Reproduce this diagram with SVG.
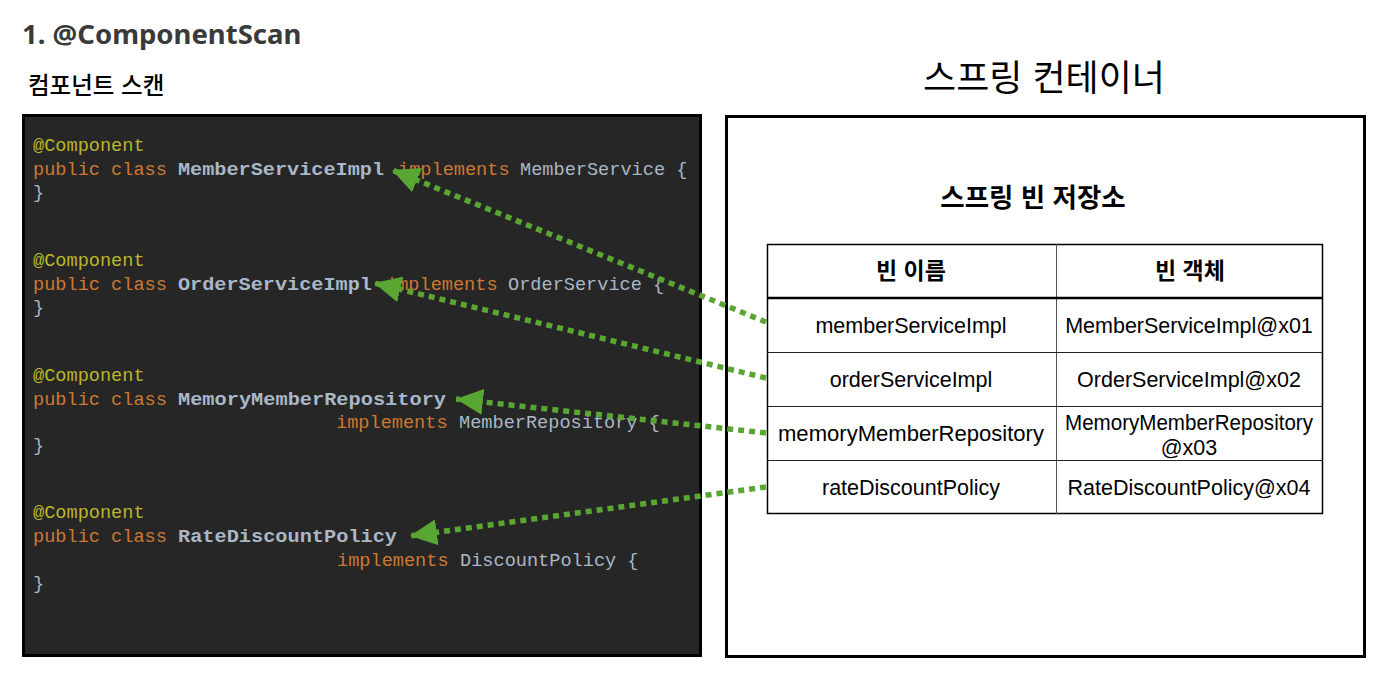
<svg xmlns="http://www.w3.org/2000/svg" width="1392" height="674" viewBox="0 0 1392 674">
<style>
.title{font-family:"Noto Sans","Open Sans",sans-serif;font-weight:bold;font-size:27.5px;fill:#3a3a3a}
.kr{font-family:"Liberation Sans","Noto Sans CJK KR",sans-serif;fill:#000}
.code{font-family:"Liberation Mono",monospace;font-size:18.6px}
.ann{fill:#bbb529}
.kw{fill:#cc7832}
.id{fill:#a9b7c6}
.cls{fill:#a9b7c6;font-weight:bold}
.cell{font-family:"Liberation Sans",sans-serif;font-size:21.5px;fill:#000;text-anchor:middle}
.hdr{font-family:"Liberation Sans","Noto Sans CJK KR",sans-serif;font-size:23px;font-weight:bold;fill:#000;text-anchor:middle}
.store{font-size:26.5px}
.conn{stroke:#5aa632;stroke-width:5.5;stroke-dasharray:6 5;fill:none}
</style>
<defs>
<marker id="ah" markerUnits="userSpaceOnUse" markerWidth="30" markerHeight="26" refX="27" refY="13" orient="auto">
<path d="M0,0 L27,13 L0,26 Z" fill="#5aa632"/>
</marker>
</defs>
<text class="title" x="22" y="44">1. @ComponentScan</text>
<text class="kr" x="28" y="94" font-size="23.5" font-weight="500">컴포넌트 스캔</text>
<text class="kr" x="1044" y="91" font-size="36" text-anchor="middle">스프링 컨테이너</text>

<g id="code-panel">
<rect x="23.5" y="115.5" width="677" height="540" fill="#262626" stroke="#000" stroke-width="3"/>
<g class="code">
<text x="33" y="151" class="ann">@Component</text>
<text x="33" y="175" class="kw">public class</text>
<text x="178" y="175" class="cls" textLength="206" lengthAdjust="spacingAndGlyphs">MemberServiceImpl</text>
<text x="398" y="175" class="kw">implements</text>
<text x="520" y="175" class="id">MemberService {</text>
<text x="33" y="198" class="id">}</text>

<text x="33" y="266" class="ann">@Component</text>
<text x="33" y="290" class="kw">public class</text>
<text x="178" y="290" class="cls" textLength="194" lengthAdjust="spacingAndGlyphs">OrderServiceImpl</text>
<text x="386" y="290" class="kw">implements</text>
<text x="508" y="290" class="id">OrderService {</text>
<text x="33" y="313" class="id">}</text>

<text x="33" y="381" class="ann">@Component</text>
<text x="33" y="405" class="kw">public class</text>
<text x="178" y="405" class="cls" textLength="268" lengthAdjust="spacingAndGlyphs">MemoryMemberRepository</text>
<text x="336" y="428" class="kw">implements</text>
<text x="459" y="428" class="id">MemberRepository {</text>
<text x="33" y="451" class="id">}</text>

<text x="33" y="518" class="ann">@Component</text>
<text x="33" y="542" class="kw">public class</text>
<text x="178" y="542" class="cls" textLength="219" lengthAdjust="spacingAndGlyphs">RateDiscountPolicy</text>
<text x="337" y="566" class="kw">implements</text>
<text x="460" y="566" class="id">DiscountPolicy {</text>
<text x="33" y="589" class="id">}</text>
</g>
</g>

<g id="container">
<rect x="726.5" y="116.5" width="638" height="540" fill="#fff" stroke="#000" stroke-width="3"/>
<text class="hdr store" x="1033" y="207">스프링 빈 저장소</text>
</g>

<g id="bean-table">
<rect x="767.5" y="244.5" width="555" height="269" fill="#fff" stroke="#000" stroke-width="1.5"/>
<line x1="1056.5" y1="244" x2="1056.5" y2="514" stroke="#555" stroke-width="1"/>
<line x1="767" y1="298" x2="1323" y2="298" stroke="#000" stroke-width="2.5"/>
<line x1="767" y1="352.5" x2="1323" y2="352.5" stroke="#222" stroke-width="1"/>
<line x1="767" y1="406.5" x2="1323" y2="406.5" stroke="#222" stroke-width="1"/>
<line x1="767" y1="460.5" x2="1323" y2="460.5" stroke="#222" stroke-width="1"/>
<text class="hdr" x="911" y="279">빈 이름</text>
<text class="hdr" x="1190" y="279">빈 객체</text>
<text class="cell" x="911" y="333">memberServiceImpl</text>
<text class="cell" x="1189" y="333">MemberServiceImpl@x01</text>
<text class="cell" x="911" y="387">orderServiceImpl</text>
<text class="cell" x="1189" y="387">OrderServiceImpl@x02</text>
<text class="cell" x="911" y="441" textLength="266" lengthAdjust="spacingAndGlyphs">memoryMemberRepository</text>
<text class="cell" x="1189" y="430" textLength="248" lengthAdjust="spacingAndGlyphs">MemoryMemberRepository</text>
<text class="cell" x="1189" y="455">@x03</text>
<text class="cell" x="911" y="495">rateDiscountPolicy</text>
<text class="cell" x="1189" y="495">RateDiscountPolicy@x04</text>
</g>

<g id="connectors">
<line class="conn" x1="766" y1="322" x2="392" y2="170" marker-end="url(#ah)"/>
<line class="conn" x1="766" y1="378" x2="374" y2="283" marker-end="url(#ah)"/>
<line class="conn" x1="766" y1="433" x2="456" y2="399" marker-end="url(#ah)"/>
<line class="conn" x1="766" y1="487" x2="410" y2="536" marker-end="url(#ah)"/>
</g>
</svg>
